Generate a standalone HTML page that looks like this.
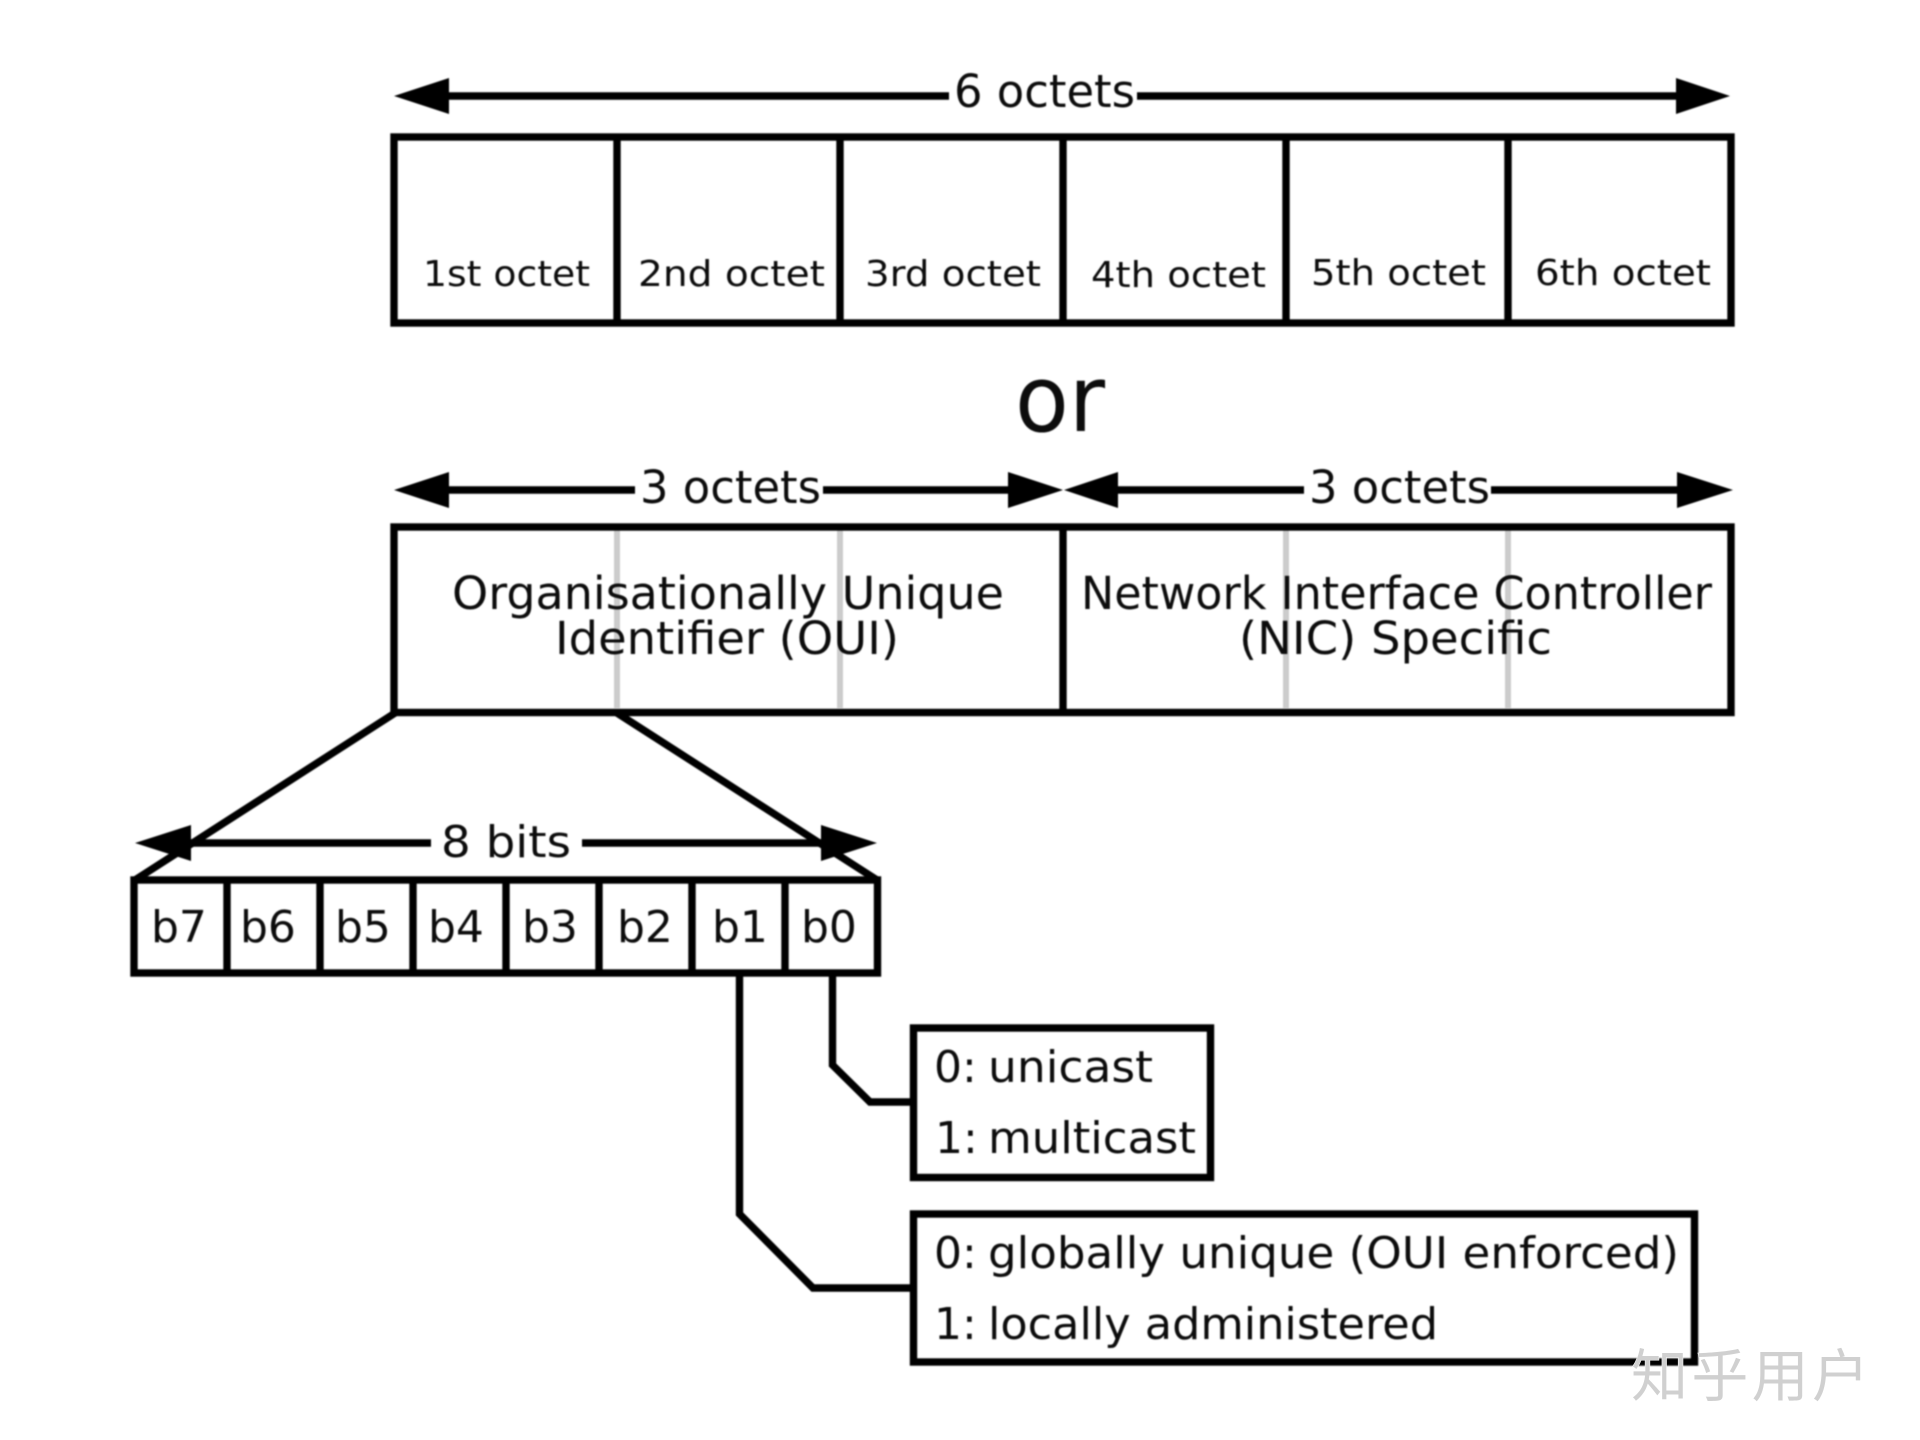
<!DOCTYPE html>
<html lang="en">
<head>
<meta charset="utf-8">
<title>MAC address structure</title>
<style>
html,body{margin:0;padding:0;background:#fff;width:1920px;height:1440px;overflow:hidden}
svg{display:block}
text{font-family:"DejaVu Sans","Liberation Sans",sans-serif;fill:#0c0c0c}
.s{stroke:#000;stroke-width:7.4;fill:none}
.t{stroke:#000;stroke-width:7.4;fill:none}
</style>
</head>
<body>
<svg width="1920" height="1440" viewBox="0 0 1920 1440" xmlns="http://www.w3.org/2000/svg">
<rect width="1920" height="1440" fill="#fff"/>
<g style="filter:blur(.7px)">
<!-- top arrow -->
<path class="t" d="M440 96H949M1137 96H1690"/>
<path d="M394 96L449 78V114Z M1730 96L1676 78V114Z"/>
<text x="954" y="107" font-size="45" textLength="181" lengthAdjust="spacingAndGlyphs">6 octets</text>
<!-- top box -->
<rect class="s" x="394" y="137" width="1337" height="186"/>
<path class="s" d="M617 137V323M840 137V323M1063 137V323M1286 137V323M1508 137V323"/>
<g font-size="36">
<text x="423" y="286" textLength="167" lengthAdjust="spacingAndGlyphs">1st octet</text>
<text x="638" y="286" textLength="187" lengthAdjust="spacingAndGlyphs">2nd octet</text>
<text x="865" y="286" textLength="176" lengthAdjust="spacingAndGlyphs">3rd octet</text>
<text x="1091" y="287" textLength="175" lengthAdjust="spacingAndGlyphs">4th octet</text>
<text x="1311" y="285" textLength="175" lengthAdjust="spacingAndGlyphs">5th octet</text>
<text x="1535" y="285" textLength="176" lengthAdjust="spacingAndGlyphs">6th octet</text>
</g>
<text x="1015" y="431" font-size="92" textLength="90" lengthAdjust="spacingAndGlyphs">or</text>
<!-- second arrows -->
<path class="t" d="M440 490H635M823 490H1020M1105 490H1304M1491 490H1690"/>
<path d="M394 490L449 472V508Z M1063 490L1008 472V508Z M1064 490L1118 472V508Z M1733 490L1677 472V508Z"/>
<text x="640" y="503" font-size="45" textLength="181" lengthAdjust="spacingAndGlyphs">3 octets</text>
<text x="1309" y="503" font-size="45" textLength="181" lengthAdjust="spacingAndGlyphs">3 octets</text>
<!-- second box -->
<path d="M617 530V708M840 530V708M1286 530V708M1508 530V708" stroke="#ccc" stroke-width="6" fill="none"/>
<rect class="s" x="394" y="527" width="1337" height="185.5"/>
<path class="s" d="M1063 527V712"/>
<g font-size="45">
<text x="452" y="609" textLength="552" lengthAdjust="spacingAndGlyphs">Organisationally Unique</text>
<text x="555" y="654" textLength="344" lengthAdjust="spacingAndGlyphs">Identifier (OUI)</text>
<text x="1081" y="609" textLength="631" lengthAdjust="spacingAndGlyphs">Network Interface Controller</text>
<text x="1239" y="654" textLength="313" lengthAdjust="spacingAndGlyphs">(NIC) Specific</text>
</g>
<!-- diagonals -->
<path class="s" d="M395 713L135 880M617 713L877 880"/>
<!-- bits arrow -->
<path class="t" d="M180 843H431M582 843H825"/>
<path d="M135 843L191 825V861Z M877 843L821 825V861Z"/>
<text x="441" y="857" font-size="44" textLength="130" lengthAdjust="spacingAndGlyphs">8 bits</text>
<!-- bits box -->
<rect class="s" x="134" y="880" width="743.5" height="93"/>
<path class="s" d="M227 880V973M320 880V973M413 880V973M506 880V973M599 880V973M692 880V973M785 880V973"/>
<g font-size="44">
<text x="151" y="942">b7</text>
<text x="240" y="942">b6</text>
<text x="335" y="942">b5</text>
<text x="428" y="942">b4</text>
<text x="522" y="942">b3</text>
<text x="617" y="942">b2</text>
<text x="712" y="942">b1</text>
<text x="801" y="942">b0</text>
</g>
<!-- connectors -->
<path class="s" d="M832.5 973V1065L870 1102H913"/>
<path class="s" d="M739.5 973V1214L813 1288H913"/>
<!-- note boxes -->
<rect class="s" x="913.5" y="1028" width="297" height="149.5"/>
<rect class="s" x="913.5" y="1214" width="781" height="148"/>
<g font-size="44">
<text x="934" y="1082">0:</text>
<text x="988" y="1082" textLength="165" lengthAdjust="spacingAndGlyphs">unicast</text>
<text x="935" y="1153">1:</text>
<text x="988" y="1153" textLength="208" lengthAdjust="spacingAndGlyphs">multicast</text>
<text x="934" y="1268">0:</text>
<text x="988" y="1268" textLength="691" lengthAdjust="spacingAndGlyphs">globally unique (OUI enforced)</text>
<text x="934" y="1339">1:</text>
<text x="988" y="1339" textLength="450" lengthAdjust="spacingAndGlyphs">locally administered</text>
</g>
</g>
<!-- watermark -->
<text x="1631" y="1396" font-size="57" textLength="238" style="font-family:'Noto Sans CJK SC','WenQuanYi Zen Hei',sans-serif;fill:#d0d0d0;paint-order:stroke" stroke="#fff" stroke-width="1">知乎用户</text>
</svg>
</body>
</html>
